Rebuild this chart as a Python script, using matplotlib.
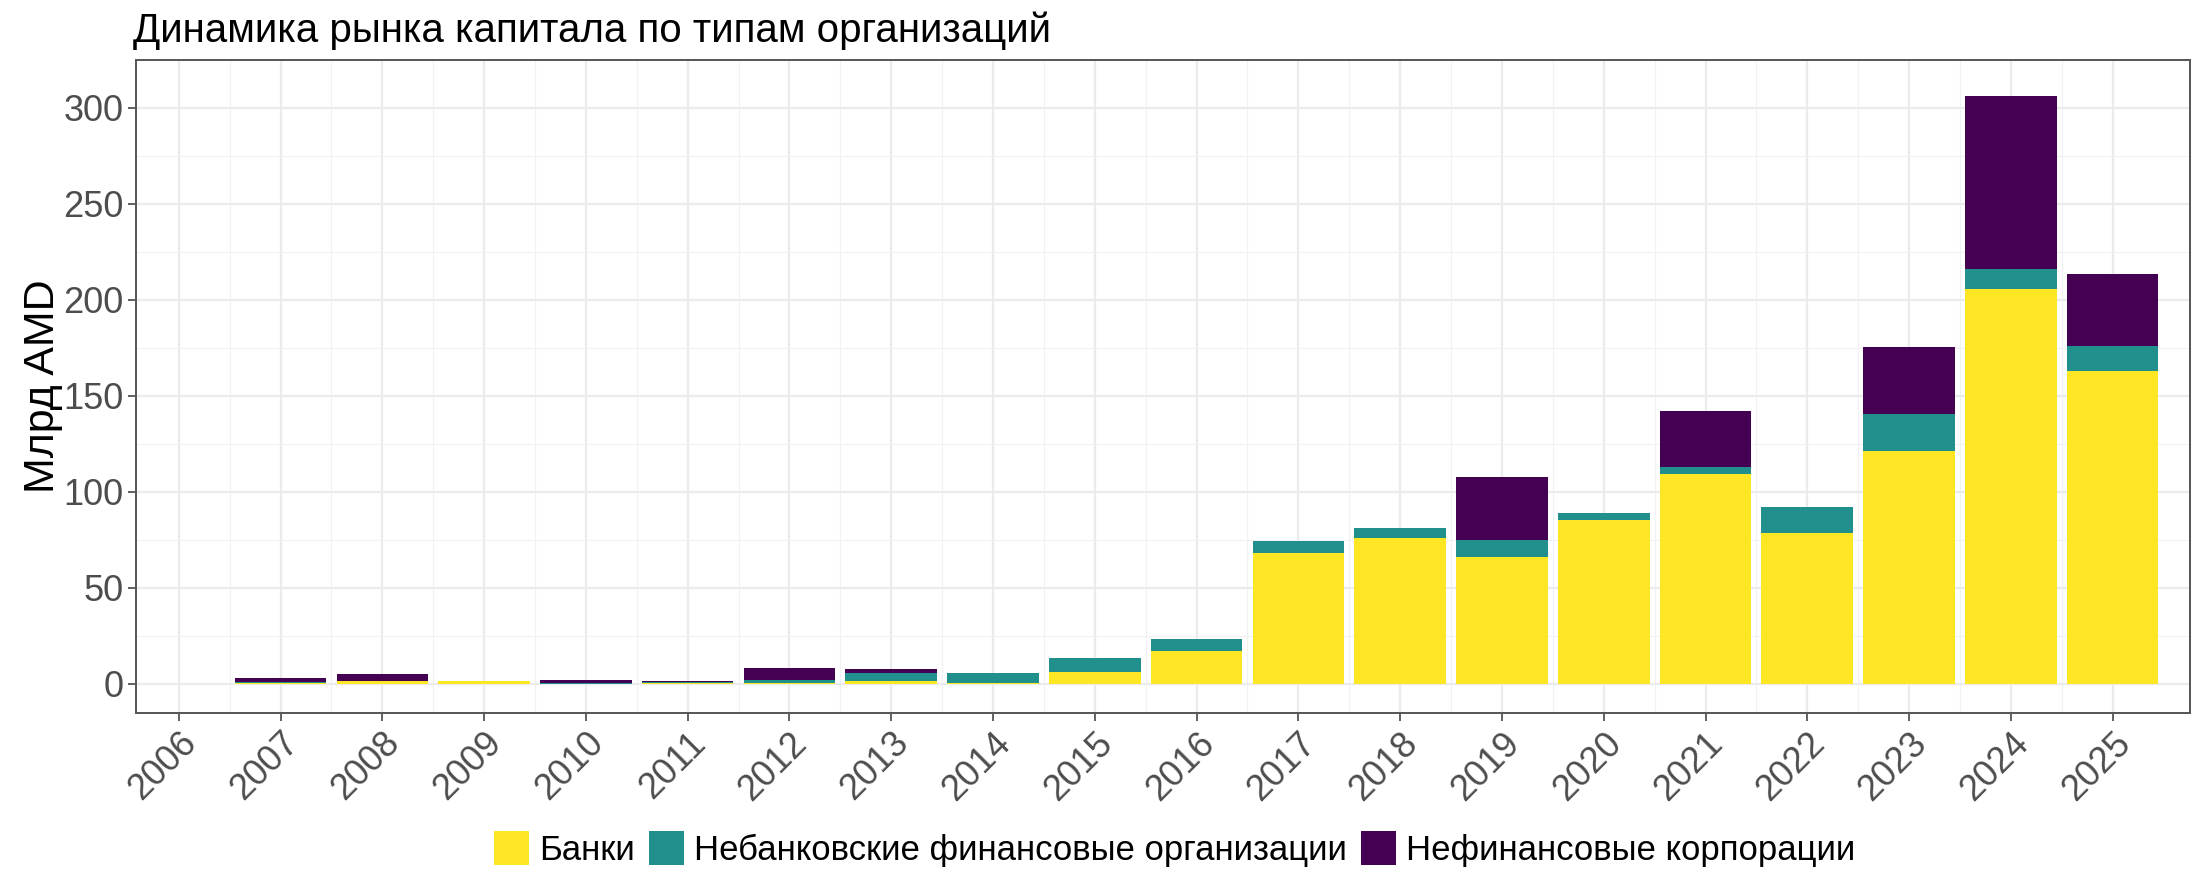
import matplotlib
matplotlib.use('Agg')
import matplotlib.pyplot as plt
from matplotlib.patches import Patch
import numpy as np

plt.rcParams['font.family'] = ['Liberation Sans', 'DejaVu Sans']

# Capital market by organization type, bln AMD
years = [str(y) for y in range(2006, 2026)]
banks = [0, 0.3, 1.2, 1.3, 0, 0.5, 0.5, 1.5, 0.3, 6.0,
         17.1, 68.0, 75.9, 66.2, 85.2, 109.4, 78.4, 121.1, 205.4, 162.7]
nbfo = [0, 0.5, 0, 0, 0.5, 0.6, 1.2, 4.2, 5.4, 7.2,
        6.4, 6.5, 5.3, 8.4, 3.9, 3.6, 13.5, 19.2, 10.6, 13.2]
nonfin = [0, 2.0, 3.6, 0, 1.3, 0.4, 6.5, 1.7, 0, 0,
          0, 0, 0, 33.3, 0, 29.0, 0, 35.2, 90.3, 37.6]
labels = ['Банки', 'Небанковские финансовые организации', 'Нефинансовые корпорации']
colors = ['#FDE725', '#21908C', '#440154']


def main():
    W, H = 2193, 871
    fig = plt.figure(figsize=(W / 100, H / 100), dpi=100)
    ax = fig.add_axes([136 / W, 1 - 713 / H, (2190 - 136) / W, (713 - 60) / H])

    x = np.arange(len(years))
    bottom = np.zeros(len(years))
    for vals, col in zip([banks, nbfo, nonfin], colors):
        ax.bar(x, vals, width=0.9, bottom=bottom, color=col, zorder=3)
        bottom += np.array(vals)

    ax.set_xlim(-0.42, 19.76)
    ax.set_ylim(-15.3, 321.6)
    ax.set_xticks(x)
    ax.set_xticks(x[:-1] + 0.5, minor=True)
    ax.set_yticks(range(0, 301, 50))
    ax.set_yticks(range(25, 326, 50), minor=True)
    ax.set_xticklabels(years, rotation=45, ha='right', rotation_mode='anchor')
    ax.grid(which='major', color='#EBEBEB', linewidth=1.6, zorder=0)
    ax.grid(which='minor', color='#F2F2F2', linewidth=0.9, zorder=0)
    ax.set_axisbelow(True)
    for s in ax.spines.values():
        s.set_color('#555555')
        s.set_linewidth(1.4)
    ax.tick_params(which='major', length=6, width=1.3, color='#555555',
                   labelsize=26, labelcolor='#4D4D4D', pad=3)
    ax.tick_params(which='minor', length=0)
    ax.set_ylabel('Млрд AMD', fontsize=31, color='black', labelpad=0)

    fig.text(133 / W, 1 - 31 / H, 'Динамика рынка капитала по типам организаций',
             fontsize=29, ha='left', va='center')

    handles = [Patch(facecolor=c, edgecolor='none') for c in colors]
    fig.legend(handles, labels, loc='center', ncol=3,
               bbox_to_anchor=(1175 / W, 1 - 849 / H), frameon=False,
               fontsize=25, handlelength=1.0, handleheight=1.1,
               handletextpad=0.3, columnspacing=0.4)

    fig.savefig('out.png', dpi=100)


if __name__ == '__main__':
    main()
